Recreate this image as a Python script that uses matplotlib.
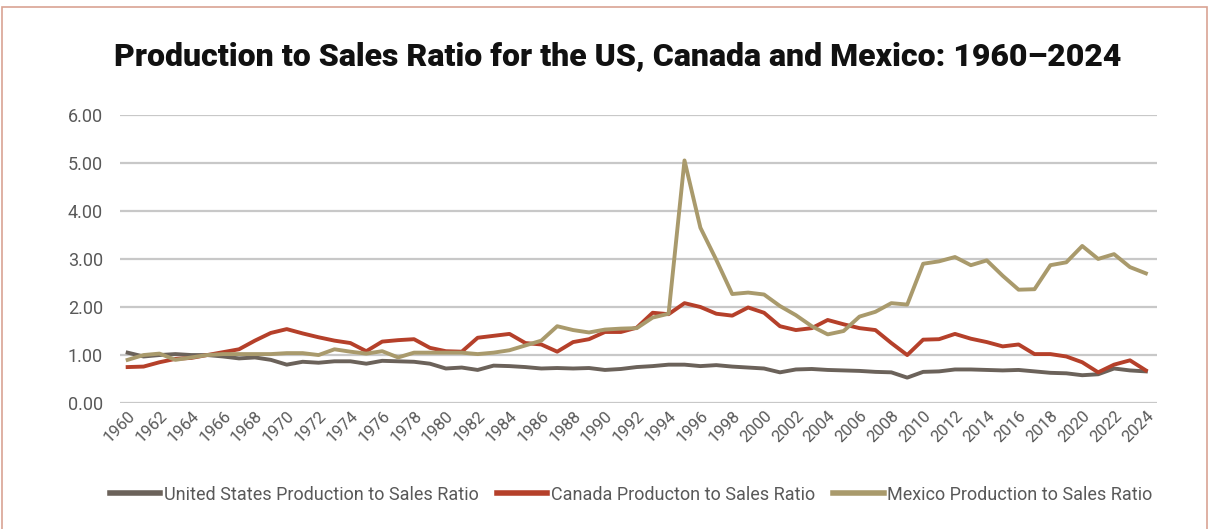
import matplotlib.pyplot as plt
from matplotlib.patches import Rectangle

# 年份與三國的產量/銷售比
years = list(range(1960, 2025))

us = [1.05, 0.97, 1.00, 1.02, 1.00, 1.00, 0.97, 0.93, 0.95, 0.90,
      0.80, 0.86, 0.84, 0.87, 0.87, 0.82, 0.88, 0.87, 0.86, 0.82,
      0.72, 0.74, 0.69, 0.78, 0.77, 0.75, 0.72, 0.73, 0.72, 0.73,
      0.69, 0.71, 0.75, 0.77, 0.80, 0.80, 0.77, 0.79, 0.76, 0.74,
      0.72, 0.64, 0.70, 0.71, 0.69, 0.68, 0.67, 0.65, 0.64, 0.53,
      0.65, 0.66, 0.70, 0.70, 0.69, 0.68, 0.69, 0.66, 0.63, 0.62,
      0.58, 0.60, 0.72, 0.68, 0.66]

canada = [0.75, 0.76, 0.85, 0.92, 0.94, 1.00, 1.06, 1.12, 1.30, 1.46,
          1.54, 1.45, 1.37, 1.30, 1.25, 1.08, 1.28, 1.31, 1.33, 1.15,
          1.08, 1.07, 1.36, 1.40, 1.44, 1.25, 1.22, 1.07, 1.27, 1.33,
          1.48, 1.48, 1.57, 1.88, 1.85, 2.08, 2.00, 1.86, 1.82, 1.99,
          1.88, 1.60, 1.52, 1.56, 1.73, 1.64, 1.56, 1.52, 1.25, 1.00,
          1.32, 1.33, 1.44, 1.34, 1.27, 1.18, 1.22, 1.02, 1.02, 0.97,
          0.85, 0.64, 0.80, 0.89, 0.68]

mexico = [0.90, 1.00, 1.03, 0.90, 0.95, 1.00, 1.02, 1.02, 1.02, 1.02,
          1.04, 1.04, 1.00, 1.12, 1.07, 1.03, 1.08, 0.95, 1.05, 1.05,
          1.05, 1.05, 1.02, 1.05, 1.10, 1.20, 1.30, 1.60, 1.52, 1.47,
          1.53, 1.55, 1.56, 1.78, 1.86, 5.05, 3.65, 2.98, 2.27, 2.30,
          2.26, 2.02, 1.83, 1.60, 1.43, 1.50, 1.80, 1.90, 2.08, 2.05,
          2.90, 2.95, 3.04, 2.87, 2.97, 2.65, 2.36, 2.37, 2.87, 2.93,
          3.27, 3.00, 3.10, 2.83, 2.70]

labels = ['United States Production to Sales Ratio',
          'Canada Producton to Sales Ratio',
          'Mexico Production to Sales Ratio']
colors = ['#6b625a', '#b5402a', '#a99a6c']

fig = plt.figure(figsize=(12.09, 5.29), dpi=100)
ax = fig.add_axes([0.099, 0.238, 0.858, 0.545])

for vals, lab, col in zip([us, canada, mexico], labels, colors):
    ax.plot(years, vals, color=col, lw=2.8, label=lab, solid_joinstyle='round')

ax.set_ylim(0, 6)
ax.set_xlim(1959.5, 2024.7)
ax.set_yticks(range(0, 7))
ax.set_yticklabels([f'{v:.2f}' for v in range(0, 7)])
ax.set_xticks(years[::2])
ax.set_xticklabels([str(y) for y in years[::2]], rotation=45, ha='right',
                   rotation_mode='anchor')
ax.grid(axis='y', color='#c8c8c8', lw=1.6)
ax.set_axisbelow(True)
for s in ax.spines.values():
    s.set_visible(False)
ax.tick_params(length=0, colors='#595959', labelsize=12)
ax.tick_params(axis='y', pad=12, labelsize=13)
for t in ax.get_xticklabels() + ax.get_yticklabels():
    t.set_fontfamily('Roboto')

fig.text(0.511, 0.895, 'Production to Sales Ratio for the US, Canada and Mexico: 1960\u20132024',
         ha='center', va='center', fontsize=23, fontweight='black',
         family='Roboto', color='#111111')

leg = fig.legend(loc='center', bbox_to_anchor=(0.522, 0.065), ncol=3,
                 frameon=False, handlelength=2.8, columnspacing=1.0,
                 handletextpad=0.2, prop={'family': 'Roboto', 'size': 13})
for line in leg.get_lines():
    line.set_linewidth(4)
for t in leg.get_texts():
    t.set_color('#595959')

# 外框
fig.patches.append(Rectangle((0.002, -0.1), 0.996, 1.086, transform=fig.transFigure,
                             fill=False, edgecolor='#d9a393', lw=1.2))

fig.savefig('out.png', dpi=100)
